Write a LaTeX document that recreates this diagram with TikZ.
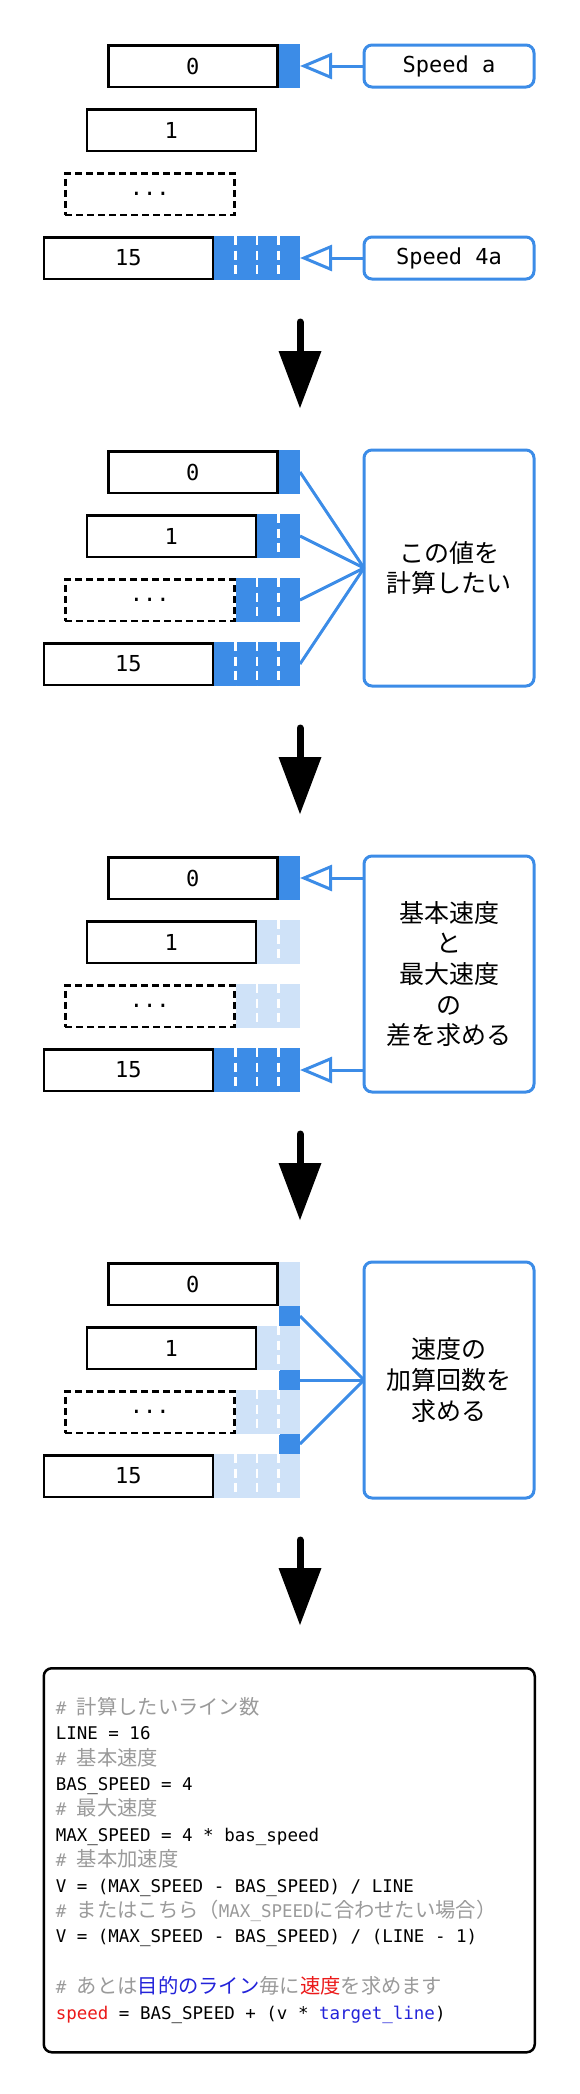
\documentclass[tikz,border=0pt]{standalone}
\usepackage{fontspec}
\usepackage{tikz}
\usepackage{xcolor}
\usetikzlibrary{shapes.geometric, arrows.meta, positioning, calc}

\setmonofont{DejaVu Sans Mono}
\newfontfamily\jpfont{Noto Sans CJK JP}
\newfontfamily\jpcode{Noto Sans CJK JP}[Scale=1.16]

\definecolor{mainblue}{HTML}{3C8CE7}
\definecolor{paleblue}{HTML}{CFE2F8}
\definecolor{cmtgrey}{HTML}{9A9A9A}
\definecolor{codeblue}{HTML}{2323D9}
\definecolor{codered}{HTML}{EB1A1A}

\newcommand{\jc}[1]{{\jpcode #1}}
\newcommand{\cmt}[1]{\textcolor{cmtgrey}{#1}}

\begin{document}
\begin{tikzpicture}[x=1pt, y=-1pt, node distance=20pt and 0pt]

    \useasboundingbox (0,0) rectangle (580,2094);

    % Define style for different elements
    \tikzstyle{linebox} = [rectangle, minimum width=169pt, minimum height=41.5pt, draw=black, line width=2.5pt, fill=white, text centered, font=\ttfamily\fontsize{22}{26}\selectfont]
    \tikzstyle{dotsbox} = [linebox, dash pattern=on 7pt off 4pt]
    \tikzstyle{slot} = [rectangle, minimum height=44pt, inner sep=0pt, outer sep=0pt, fill=mainblue]
    \tikzstyle{pale} = [slot, fill=paleblue]
    \tikzstyle{gapline} = [draw=white, line width=2.5pt, dash pattern=on 9pt off 5.5pt]
    \tikzstyle{notebox} = [rectangle, rounded corners=8pt, minimum width=170pt, outer sep=0pt, draw=mainblue, line width=3pt, align=center]
    \tikzstyle{arrow} = [draw=mainblue, line width=3pt, -{Triangle[open, length=32pt, width=26pt]}]
    \tikzstyle{link} = [draw=mainblue, line width=3pt]
    \tikzstyle{bigarrow} = [line width=7pt, line cap=round, -{Triangle[length=57pt, width=43pt, line width=0pt]}]
    \tikzstyle{codebox} = [rectangle, rounded corners=8pt, draw=black, line width=2.5pt, text width=467pt, inner xsep=12pt, minimum height=384pt, align=left, font=\ttfamily\fontsize{17.5}{25.4}\selectfont]

    % Place nodes
    \foreach \s/\ty in {1/44, 2/450, 3/856, 4/1262} {
        \node (a\s) [linebox] at (192.75, \ty+22) {0};
        \node (b\s) [linebox, below=of a\s, xshift=-21.5pt] {1};
        \node (c\s) [dotsbox, below=of b\s, xshift=-21.5pt] {...};
        \node (d\s) [linebox, below=of c\s, xshift=-21.5pt] {15};
    }

    % step 1: two speeds
    \node (ca1) [slot, minimum width=21.5pt, right=of a1] {};
    \node (cd1) [slot, minimum width=86pt, right=of d1] {};
    \foreach \k in {1,2,3}
        \draw [gapline] ([xshift=\k*21.5pt]cd1.north west) -- ([xshift=\k*21.5pt]cd1.south west);
    \node (spa) [notebox, minimum height=42pt, right=64pt of ca1, font=\ttfamily\fontsize{22}{26}\selectfont] {Speed a};
    \node (spb) [notebox, minimum height=42pt, right=64pt of cd1, font=\ttfamily\fontsize{22}{26}\selectfont] {Speed 4a};

    % step 2: every line
    \node (ca2) [slot, minimum width=21.5pt, right=of a2] {};
    \node (cb2) [slot, minimum width=43pt, right=of b2] {};
    \node (cc2) [slot, minimum width=64.5pt, right=of c2] {};
    \node (cd2) [slot, minimum width=86pt, right=of d2] {};
    \node (note2) [notebox, minimum height=236pt, anchor=north west, font=\jpfont\fontsize{25}{30.7}\selectfont] at ([xshift=64pt]ca2.north east) {この値を\\計算したい};

    % step 3: difference
    \node (ca3) [slot, minimum width=21.5pt, right=of a3] {};
    \node (cb3) [pale, minimum width=43pt, right=of b3] {};
    \node (cc3) [pale, minimum width=64.5pt, right=of c3] {};
    \node (cd3) [slot, minimum width=86pt, right=of d3] {};
    \node (note3) [notebox, minimum height=236pt, anchor=north west, font=\jpfont\fontsize{25}{30.7}\selectfont] at ([xshift=64pt]ca3.north east) {基本速度\\と\\最大速度\\の\\差を求める};

    % step 4: steps between lines
    \node (ca4) [pale, minimum width=21.5pt, right=of a4] {};
    \node (cb4) [pale, minimum width=43pt, right=of b4] {};
    \node (cc4) [pale, minimum width=64.5pt, right=of c4] {};
    \node (cd4) [pale, minimum width=86pt, right=of d4] {};
    \node (g1) [slot, minimum width=21.5pt, minimum height=20pt, anchor=south east] at (cb4.north east) {};
    \node (g2) [slot, minimum width=21.5pt, minimum height=20pt, anchor=south east] at (cc4.north east) {};
    \node (g3) [slot, minimum width=21.5pt, minimum height=20pt, anchor=south east] at (cd4.north east) {};
    \node (note4) [notebox, minimum height=236pt, anchor=north west, font=\jpfont\fontsize{25}{30.7}\selectfont] at ([xshift=64pt]ca4.north east) {速度の\\加算回数を\\求める};

    \foreach \s in {2,3,4}
        \foreach \r/\n in {b/1, c/2, d/3}
            \foreach \k in {1,...,\n}
                \draw [gapline] ([xshift=\k*21.5pt]c\r\s.north west) -- ([xshift=\k*21.5pt]c\r\s.south west);

    % code (fixed-width spaces)
    \node (code) [codebox, below=169pt of d4.south west, anchor=north west] {\spaceskip=0.602em\relax
        \cmt{\# \jc{計算したいライン数}}\\
        LINE = 16\\
        \cmt{\# \jc{基本速度}}\\
        BAS\_SPEED = 4\\
        \cmt{\# \jc{最大速度}}\\
        MAX\_SPEED = 4 * bas\_speed\\
        \cmt{\# \jc{基本加速度}}\\
        V = (MAX\_SPEED - BAS\_SPEED) / LINE\\
        \cmt{\# \jc{またはこちら（}MAX\_SPEED\jc{に合わせたい場合）}}\\
        V = (MAX\_SPEED - BAS\_SPEED) / (LINE - 1)\\[25.4pt]
        \cmt{\# \jc{あとは}}\textcolor{codeblue}{\jc{目的のライン}}\cmt{\jc{毎に}}\textcolor{codered}{\jc{速度}}\cmt{\jc{を求めます}}\\
        \textcolor{codered}{speed} = BAS\_SPEED + (v * \textcolor{codeblue}{target\_line})
    };

    % Draw arrows
    \draw [arrow] (spa) -- (ca1);
    \draw [arrow] (spb) -- (cd1);
    \draw [link] (ca2.east) -- (note2.west);
    \draw [link] (cb2.east) -- (note2.west);
    \draw [link] (cc2.east) -- (note2.west);
    \draw [link] (cd2.east) -- (note2.west);
    \draw [arrow] (note3.west |- ca3.east) -- (ca3.east);
    \draw [arrow] (note3.west |- cd3.east) -- (cd3.east);
    \draw [link] (g1.east) -- (note4.west);
    \draw [link] (g2.east) -- (note4.west);
    \draw [link] (g3.east) -- (note4.west);
    \draw [bigarrow] ([yshift=-42pt]cd1.south east) -- ([yshift=42pt]ca2.north east);
    \draw [bigarrow] ([yshift=-42pt]cd2.south east) -- ([yshift=42pt]ca3.north east);
    \draw [bigarrow] ([yshift=-42pt]cd3.south east) -- ([yshift=42pt]ca4.north east);
    \draw [bigarrow] ([yshift=-42pt]cd4.south east) -- ($(code.north -| cd4.east)+(0pt,42pt)$);

\end{tikzpicture}
\end{document}
